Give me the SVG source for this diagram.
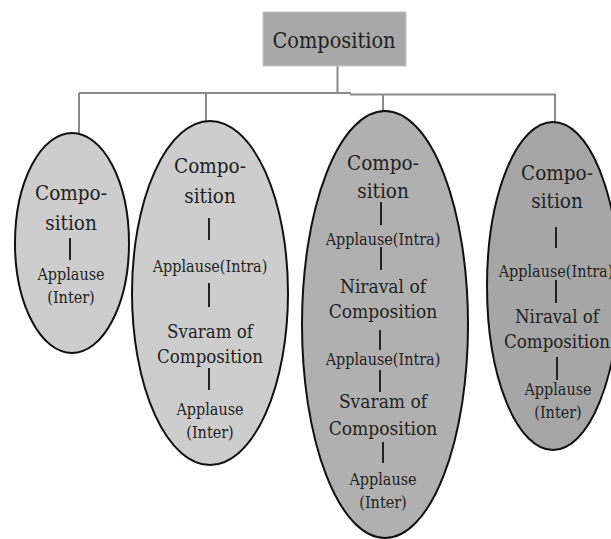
<svg xmlns="http://www.w3.org/2000/svg" width="611" height="539" viewBox="0 0 611 539">
<style>
.t{fill:#222;text-anchor:middle}
.big{font-size:20.5px}
.mid{font-size:18.5px}
.sm{font-size:16px}
.ell{stroke:#111;stroke-width:2}
.bar{stroke:#222;stroke-width:2}
.con{stroke:#8a8a8a;stroke-width:2;fill:none}
</style>
<rect width="611" height="539" fill="#fff"/>
<g id="connectors">
<path class="con" d="M337.5 66V93M79 93H351M350 94.5H556M79 93V134M206 93V121M383 94.5V111M555 94.5V122"/>
</g>
<g font-family="DejaVu Serif, Liberation Serif, serif" font-stretch="condensed" class="t">
<g id="root">
<rect x="263" y="12" width="143" height="54" fill="#a8a8a8" stroke="#c4c4c4" stroke-width="1"/>
<text x="334" y="48" font-size="21.5">Composition</text>
</g>
<g id="node1">
<ellipse class="ell" cx="72" cy="243" rx="57" ry="110" fill="#cdcdcd"/>
<text class="big" x="71" y="200">Compo-</text>
<text class="big" x="71" y="230">sition</text>
<line class="bar" x1="70" y1="238" x2="70" y2="260"/>
<text class="sm" x="71" y="280">Applause</text>
<text class="sm" x="71" y="303">(Inter)</text>
</g>
<g id="node2">
<ellipse class="ell" cx="210" cy="293" rx="78" ry="172" fill="#cdcdcd"/>
<text class="big" x="210" y="173">Compo-</text>
<text class="big" x="210" y="203">sition</text>
<line class="bar" x1="209" y1="218" x2="209" y2="240"/>
<text class="sm" x="210" y="272">Applause(Intra)</text>
<line class="bar" x1="209" y1="283" x2="209" y2="307"/>
<text class="mid" x="210" y="338">Svaram of</text>
<text class="mid" x="210" y="363">Composition</text>
<line class="bar" x1="209" y1="368" x2="209" y2="390"/>
<text class="sm" x="210" y="415">Applause</text>
<text class="sm" x="210" y="438">(Inter)</text>
</g>
<g id="node3">
<ellipse class="ell" cx="385" cy="324.5" rx="83" ry="213.5" fill="#b0b0b0"/>
<text class="big" x="383" y="170">Compo-</text>
<text class="big" x="383" y="198">sition</text>
<line class="bar" x1="381" y1="202" x2="381" y2="225"/>
<text class="sm" x="383" y="245">Applause(Intra)</text>
<line class="bar" x1="381" y1="247" x2="381" y2="270"/>
<text x="383" y="293" font-size="19">Niraval of</text>
<text x="383" y="318" font-size="19">Composition</text>
<line class="bar" x1="380" y1="330" x2="380" y2="350"/>
<text class="sm" x="383" y="365">Applause(Intra)</text>
<line class="bar" x1="380" y1="370" x2="380" y2="392"/>
<text x="383" y="408" font-size="19">Svaram of</text>
<text x="383" y="435" font-size="19">Composition</text>
<line class="bar" x1="383" y1="442" x2="383" y2="463"/>
<text class="sm" x="383" y="485">Applause</text>
<text class="sm" x="383" y="508">(Inter)</text>
</g>
<g id="node4">
<ellipse class="ell" cx="553" cy="286" rx="66" ry="164" fill="#a6a6a6"/>
<text class="big" x="557" y="180">Compo-</text>
<text class="big" x="557" y="208">sition</text>
<line class="bar" x1="556" y1="227" x2="556" y2="248"/>
<text class="sm" x="556" y="277">Applause(Intra)</text>
<line class="bar" x1="556" y1="280" x2="556" y2="303"/>
<text class="mid" x="557" y="323">Niraval of</text>
<text class="mid" x="557" y="348">Composition</text>
<line class="bar" x1="557" y1="357" x2="557" y2="380"/>
<text class="sm" x="558" y="395">Applause</text>
<text class="sm" x="558" y="418">(Inter)</text>
</g>
</g>
</svg>
